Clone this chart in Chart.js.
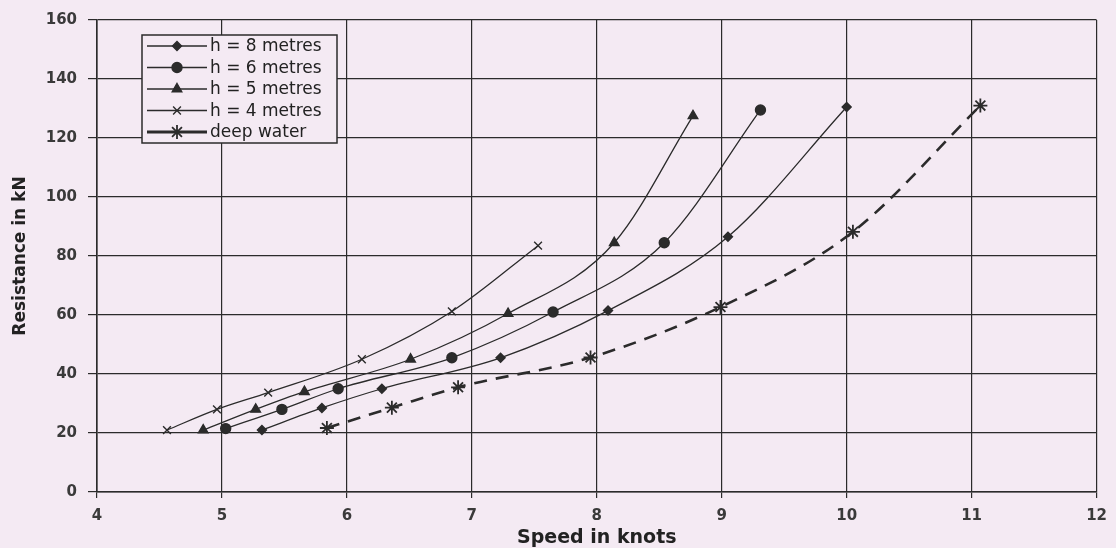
<!DOCTYPE html>
<html>
<head>
<meta charset="utf-8">
<script src="https://cdn.jsdelivr.net/npm/chart.js@4/dist/chart.umd.min.js"></script>
<style>
html,body{margin:0;padding:0;background:#f4eaf3;}
canvas{display:block;}
</style>
</head>
<body>
<canvas id="c" width="1116" height="548"></canvas>
<script>
// ---- data ----
const xTickValues = [4, 5, 6, 7, 8, 9, 10, 11, 12];
const yTickValues = [0, 20, 40, 60, 80, 100, 120, 140, 160];
const seriesNames = ['h = 8 metres', 'h = 6 metres', 'h = 5 metres', 'h = 4 metres', 'deep water'];

const speedH8 = [5.32, 5.80, 6.28, 7.23, 8.09, 9.05, 10.00];
const resistH8 = [21.0, 28.5, 35.0, 45.5, 61.5, 86.5, 130.5];

const speedH6 = [5.03, 5.48, 5.93, 6.84, 7.65, 8.54, 9.31];
const resistH6 = [21.5, 28.0, 35.0, 45.5, 61.0, 84.5, 129.5];

const speedH5 = [4.85, 5.27, 5.66, 6.51, 7.29, 8.14, 8.77];
const resistH5 = [21.0, 28.0, 34.0, 45.0, 60.5, 84.5, 127.5];

const speedH4 = [4.56, 4.96, 5.37, 6.12, 6.84, 7.53];
const resistH4 = [21.0, 28.0, 33.7, 45.0, 61.2, 83.5];

const speedDeep = [5.84, 6.36, 6.89, 7.95, 8.99, 10.05, 11.07];
const resistDeep = [21.7, 28.6, 35.5, 45.6, 62.7, 88.2, 131.0];

const xTitle = 'Speed in knots';
const yTitle = 'Resistance in kN';

// ---- build ----
const pairs = (xs, ys) => xs.map((x, i) => ({x: x, y: ys[i]}));
const INK = '#2b2b2b';
const BG = '#f4eaf3';

function series(label, xs, ys, style, radius, extra) {
  return Object.assign({
    label: label,
    data: pairs(xs, ys),
    borderColor: INK,
    borderWidth: 1.3,
    pointStyle: style,
    pointRadius: radius,
    pointHoverRadius: radius,
    pointBackgroundColor: INK,
    pointBorderColor: INK,
    pointBorderWidth: 1.4,
    cubicInterpolationMode: 'monotone',
    fill: false
  }, extra || {});
}

const datasets = [
  series(seriesNames[0], speedH8, resistH8, 'rectRot', 4.5),
  series(seriesNames[1], speedH6, resistH6, 'circle', 5),
  series(seriesNames[2], speedH5, resistH5, 'triangle', 5.5),
  series(seriesNames[3], speedH4, resistH4, 'crossRot', 5.5),
  series(seriesNames[4], speedDeep, resistDeep, 'star', 7, {borderWidth: 2.6, borderDash: [13, 9], pointBorderWidth: 1.8})
];

const boxLegend = {
  id: 'boxLegend',
  afterDraw(chart) {
    const ctx = chart.ctx;
    const area = chart.chartArea;
    const left = area.left + 45, top = area.top + 15, w = 195, h = 108;
    ctx.save();
    ctx.fillStyle = BG;
    ctx.fillRect(left, top, w, h);
    ctx.strokeStyle = INK;
    ctx.lineWidth = 1.5;
    ctx.strokeRect(left, top, w, h);
    chart.data.datasets.forEach((ds, i) => {
      const y = top + 11 + i * 21.5;
      ctx.setLineDash([]);
      ctx.strokeStyle = INK;
      ctx.lineWidth = i === 4 ? 3 : 1.3;
      ctx.beginPath();
      ctx.moveTo(left + 5, y);
      ctx.lineTo(left + 65, y);
      ctx.stroke();
      ctx.fillStyle = INK;
      ctx.lineWidth = ds.pointBorderWidth;
      if (Chart.helpers && Chart.helpers.drawPoint) {
        Chart.helpers.drawPoint(ctx, {pointStyle: ds.pointStyle, radius: ds.pointRadius, rotation: 0, borderWidth: ds.pointBorderWidth}, left + 35, y);
      }
      ctx.fillStyle = '#222';
      ctx.font = '17px "DejaVu Sans"';
      ctx.textBaseline = 'middle';
      ctx.textAlign = 'left';
      ctx.fillText(ds.label, left + 68, y + 1);
    });
    ctx.restore();
  }
};

new Chart(document.getElementById('c'), {
  type: 'line',
  data: {datasets: datasets},
  options: {
    responsive: false,
    devicePixelRatio: 1,
    animation: false,
    layout: {padding: {left: 0, right: 17, top: 16, bottom: 0}},
    plugins: {legend: {display: false}, tooltip: {enabled: false}},
    scales: {
      x: {
        type: 'linear',
        min: xTickValues[0],
        max: xTickValues[xTickValues.length - 1],
        afterBuildTicks: (s) => { s.ticks = xTickValues.map(v => ({value: v})); },
        afterFit: (s) => { s.height = 56; },
        grid: {color: INK, lineWidth: 1.2, tickLength: 6, drawTicks: true},
        border: {color: INK, width: 1.6},
        ticks: {color: '#3a3a3a', font: {family: 'DejaVu Sans', weight: 'bold', size: 15}, padding: 9, maxRotation: 0},
        title: {display: true, text: xTitle, color: '#222', font: {family: 'DejaVu Sans', weight: 'bold', size: 19, lineHeight: 1}, padding: {top: 0, bottom: 0}}
      },
      y: {
        type: 'linear',
        min: yTickValues[0],
        max: yTickValues[yTickValues.length - 1],
        afterBuildTicks: (s) => { s.ticks = yTickValues.map(v => ({value: v})); },
        afterFit: (s) => { s.width = 97; },
        grid: {color: INK, lineWidth: 1.2, tickLength: 9, drawTicks: true},
        border: {color: INK, width: 1.6},
        ticks: {color: '#3a3a3a', font: {family: 'DejaVu Sans', weight: 'bold', size: 15}, padding: 11},
        title: {display: true, text: yTitle, color: '#222', font: {family: 'DejaVu Sans', weight: 'bold', size: 17, lineHeight: 1.2}, padding: {top: 10, bottom: 0}}
      }
    }
  },
  plugins: [boxLegend]
});
</script>
</body>
</html>
